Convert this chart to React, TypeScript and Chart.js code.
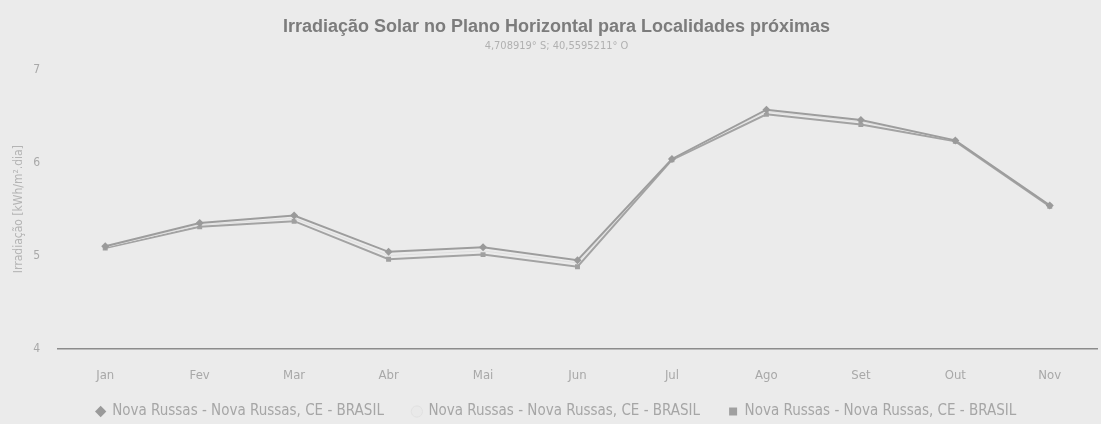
import React, { useEffect, useRef } from "react";
import { Chart, registerables } from "chart.js";

Chart.register(...registerables);

const months = ["Jan", "Fev", "Mar", "Abr", "Mai", "Jun", "Jul", "Ago", "Set", "Out", "Nov"];
const seriesName = "Nova Russas - Nova Russas, CE - BRASIL";
const seriesA = [5.1, 5.35, 5.43, 5.04, 5.09, 4.95, 6.04, 6.57, 6.46, 6.24, 5.54];
const seriesB = [5.09, 5.33, 5.4, 5.0, 5.05, 4.92, 6.04, 6.55, 6.44, 6.24, 5.54];
const seriesC = [5.08, 5.31, 5.37, 4.96, 5.01, 4.88, 6.03, 6.52, 6.41, 6.23, 5.53];
const yTicks = [4, 5, 6, 7];
const titleText = "Irradiação Solar no Plano Horizontal para Localidades próximas";
const subtitleText = "4,708919° S; 40,5595211° O";
const yTitle = "Irradiação [kWh/m².dia]";
const legendGap = "\u2003\u2003";

const narrow = "'Liberation Sans Narrow', 'DejaVu Sans Condensed', 'Liberation Sans', Arial, sans-serif";

export default function App() {
  const ref = useRef<HTMLCanvasElement | null>(null);

  useEffect(() => {
    document.body.style.margin = "0";
    document.body.style.background = "#ebebeb";
    const ctx = ref.current!.getContext("2d")!;
    const chart = new Chart(ctx, {
      type: "line",
      data: {
        labels: months,
        datasets: [
          {
            label: seriesName + legendGap,
            data: seriesA,
            borderColor: "#9d9d9d",
            backgroundColor: "#9a9a9a",
            borderWidth: 2,
            pointStyle: "rectRot",
            pointRadius: 4,
            pointBorderWidth: 0,
            tension: 0,
          },
          {
            label: seriesName + legendGap,
            data: seriesB,
            borderColor: "#e0e0e0",
            backgroundColor: "#e9e9e9",
            borderWidth: 1,
            pointStyle: "circle",
            pointRadius: 0,
            tension: 0,
          },
          {
            label: seriesName,
            data: seriesC,
            borderColor: "#a3a3a3",
            backgroundColor: "#a0a0a0",
            borderWidth: 2,
            pointStyle: "rect",
            pointRadius: 3.5,
            pointBorderWidth: 0,
            tension: 0,
          },
        ],
      },
      options: {
        animation: false,
        responsive: false,
        maintainAspectRatio: false,
        layout: { padding: { left: 12, right: 0, top: 0, bottom: -5 } },
        plugins: {
          title: {
            display: true,
            text: titleText,
            color: "#7c7c7c",
            font: { family: "'Liberation Sans', Arial, sans-serif", size: 18, weight: "bold" },
            padding: { top: 16, bottom: 2 },
          },
          subtitle: {
            display: true,
            text: subtitleText,
            color: "#b0b0b0",
            font: { family: narrow, size: 11 },
            padding: { bottom: 17 },
          },
          legend: {
            position: "bottom",
            labels: {
              usePointStyle: true,
              boxWidth: 8,
              boxHeight: 8,
              padding: 2,
              color: "#a6a6a6",
              font: { family: narrow, size: 15 },
            },
          },
          tooltip: { enabled: false },
        },
        scales: {
          x: {
            offset: true,
            grid: { display: false, drawTicks: false },
            border: { display: true, color: "#8c8c8c", width: 1.5 },
            ticks: { color: "#a8a8a8", padding: 19, font: { family: narrow, size: 13 } },
          },
          y: {
            min: 4,
            max: 7,
            afterBuildTicks: (s: any) => {
              s.ticks = yTicks.map((v) => ({ value: v }));
            },
            afterFit: (s: any) => {
              s.width = 46;
            },
            grid: { display: false, drawTicks: false },
            border: { display: false },
            ticks: { color: "#a8a8a8", padding: 18, font: { family: narrow, size: 12 } },
            title: {
              display: true,
              text: yTitle,
              color: "#b4b4b4",
              font: { family: narrow, size: 12 },
              padding: { top: 0, bottom: 4 },
            },
          },
        },
      },
    });
    return () => chart.destroy();
  }, []);

  return (
    <div style={{ position: "absolute", left: 0, top: 0, width: 1101, height: 424, background: "#ebebeb" }}>
      <canvas ref={ref} width={1101} height={424} style={{ display: "block" }} />
    </div>
  );
}
